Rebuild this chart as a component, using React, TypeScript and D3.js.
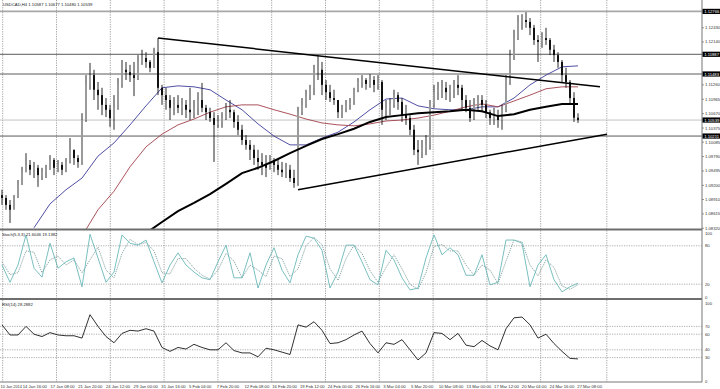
import React from "react";
import * as d3 from "d3";

const W = 720;
const H = 389;
const AXIS_X = 702;

// USDCAD H4 bars (open = previous close)
const firstOpen = 1.09;
const closes = [
  1.0894, 1.088, 1.087, 1.0894, 1.0921, 1.0947, 1.0962, 1.0952, 1.0956, 1.0941,
  1.0947, 1.0952, 1.0972, 1.0956, 1.0962, 1.0952, 1.0968, 1.0993, 1.0976, 1.0968,
  1.1054, 1.1126, 1.1146, 1.1116, 1.1105, 1.1085, 1.1075, 1.1058, 1.1079, 1.1126,
  1.1157, 1.1152, 1.1146, 1.114, 1.1173, 1.1181, 1.1173, 1.1161, 1.1193, 1.112,
  1.1105, 1.1095, 1.1079, 1.1085, 1.1079, 1.1085, 1.1075, 1.107, 1.1079, 1.1095,
  1.1079, 1.107, 1.1058, 1.1044, 1.105, 1.1058, 1.1075, 1.107, 1.105, 1.1034,
  1.1013, 1.1003, 1.0993, 1.0976, 1.0968, 1.0962, 1.0956, 1.0972, 1.0962, 1.0952,
  1.0947, 1.0952, 1.0935, 1.0925, 1.107, 1.1085, 1.1105, 1.112, 1.1152, 1.1157,
  1.1126, 1.1111, 1.1099, 1.1095, 1.107, 1.1075, 1.1085, 1.1091, 1.1116, 1.1132,
  1.1136, 1.1128, 1.1136, 1.1126, 1.1132, 1.1075, 1.1079, 1.1085, 1.1105, 1.1091,
  1.1064, 1.1058, 1.1034, 1.0993, 1.0988, 1.0997, 1.1003, 1.1085, 1.1111, 1.1116,
  1.112, 1.1111, 1.1116, 1.1126, 1.112, 1.1095, 1.1079, 1.1058, 1.1085, 1.1095,
  1.1085, 1.107, 1.1058, 1.1064, 1.1054, 1.1075, 1.1136, 1.1187, 1.1222, 1.1255,
  1.1259, 1.1255, 1.1243, 1.1218, 1.1214, 1.1222, 1.1218, 1.1198, 1.1187, 1.1173,
  1.1146, 1.1132, 1.1099, 1.10587, 1.10539,
];
const highs = [
  1.0911, 1.09, 1.089, 1.09, 1.0931, 1.0958, 1.0986, 1.0972, 1.0968, 1.0962,
  1.0956, 1.0962, 1.0982, 1.0976, 1.0972, 1.0968, 1.0976, 1.1017, 1.0993, 1.0982,
  1.1068, 1.1146, 1.1171, 1.1157, 1.1132, 1.112, 1.1099, 1.1085, 1.1105, 1.114,
  1.1177, 1.1173, 1.1167, 1.1173, 1.1187, 1.1198, 1.1193, 1.1177, 1.1202, 1.1222,
  1.1126, 1.112, 1.1105, 1.1101, 1.1105, 1.1099, 1.1095, 1.112, 1.1095, 1.1111,
  1.113, 1.1085, 1.1079, 1.107, 1.1064, 1.107, 1.1089, 1.1095, 1.1075, 1.1064,
  1.1044, 1.1023, 1.1013, 1.1003, 1.0993, 1.0986, 1.0982, 1.0982, 1.0976, 1.0972,
  1.0968, 1.0966, 1.0962, 1.0952, 1.1081, 1.1099, 1.1116, 1.1126, 1.1167, 1.1187,
  1.1173, 1.1136, 1.1126, 1.1116, 1.1095, 1.1085, 1.1095, 1.1099, 1.112, 1.114,
  1.1146, 1.114, 1.1148, 1.1144, 1.1146, 1.1136, 1.1095, 1.1099, 1.1116, 1.1111,
  1.1099, 1.1085, 1.1064, 1.1044, 1.1013, 1.1013, 1.1023, 1.1095, 1.1126, 1.1132,
  1.1136, 1.1132, 1.1126, 1.1136, 1.1146, 1.1126, 1.1105, 1.1095, 1.1099, 1.1105,
  1.1105, 1.1095, 1.1075, 1.1079, 1.1075, 1.1085, 1.1146, 1.1198, 1.1239, 1.1269,
  1.1271, 1.1275, 1.1263, 1.1249, 1.1228, 1.1234, 1.1243, 1.1222, 1.1208, 1.1193,
  1.1177, 1.1161, 1.1136, 1.1111, 1.10677,
];
const lows = [
  1.088, 1.087, 1.0843, 1.088, 1.0894, 1.0921, 1.0947, 1.0941, 1.0935, 1.0917,
  1.0931, 1.0935, 1.0952, 1.0941, 1.0947, 1.0941, 1.0947, 1.0965, 1.0962, 1.0956,
  1.0962, 1.105, 1.1116, 1.1095, 1.1075, 1.1064, 1.106, 1.104, 1.1034, 1.1075,
  1.112, 1.1136, 1.1132, 1.1103, 1.1136, 1.1167, 1.1161, 1.1152, 1.1161, 1.1105,
  1.1085, 1.1075, 1.1054, 1.1064, 1.1068, 1.1064, 1.1058, 1.1054, 1.1058, 1.1064,
  1.107, 1.1054, 1.105, 1.0968, 1.1038, 1.1038, 1.1054, 1.1058, 1.1038, 1.1023,
  1.1003, 1.0993, 1.0972, 1.0962, 1.0952, 1.0941, 1.0937, 1.0952, 1.0947, 1.0941,
  1.0937, 1.0935, 1.0927, 1.0915, 1.0919, 1.1064, 1.1079, 1.1095, 1.1105, 1.1136,
  1.1105, 1.1095, 1.1091, 1.1085, 1.1058, 1.1058, 1.107, 1.1075, 1.1085, 1.1111,
  1.112, 1.1116, 1.112, 1.1111, 1.1116, 1.1044, 1.1054, 1.1064, 1.1079, 1.1075,
  1.105, 1.1044, 1.1023, 1.0982, 1.0962, 1.0976, 1.0982, 1.0993, 1.1079, 1.1095,
  1.1099, 1.1095, 1.1091, 1.1099, 1.1105, 1.1075, 1.107, 1.105, 1.1054, 1.1075,
  1.107, 1.1058, 1.1044, 1.1044, 1.1038, 1.1034, 1.107, 1.1126, 1.1177, 1.1218,
  1.1239, 1.1243, 1.1228, 1.1208, 1.1173, 1.1202, 1.1208, 1.1187, 1.1173, 1.1161,
  1.1132, 1.112, 1.1085, 1.105, 1.1048,
];

// moving averages, one value every 4 bars, starting at bar start*4
const maBlueStart = 2;
const maBlue = [
  1.0833, 1.0882, 1.0911, 1.0935, 1.098, 1.1007, 1.1044, 1.1083, 1.112, 1.1124,
  1.1122, 1.1116, 1.1095, 1.1075, 1.1046, 1.1021, 1.1003, 1.1003, 1.1017, 1.1029,
  1.105, 1.1075, 1.1097, 1.1099, 1.1083, 1.1077, 1.1075, 1.1075, 1.1081, 1.1081,
  1.1099, 1.1126, 1.1146, 1.1163, 1.1165,
];
const maRedStart = 5;
const maRed = [
  1.0816, 1.087, 1.0908, 1.0958, 1.0999, 1.1025, 1.1044, 1.1056, 1.107, 1.1081,
  1.1085, 1.1085, 1.1075, 1.1066, 1.1056, 1.1048, 1.1044, 1.1042, 1.1046, 1.1052,
  1.1054, 1.1058, 1.1064, 1.1072, 1.1081, 1.1087, 1.1081, 1.1093, 1.1105, 1.1118,
  1.1122, 1.1122,
];
const maBlackStart = 9;
const maBlack = [
  1.0822, 1.0845, 1.0867, 1.0884, 1.0902, 1.0923, 1.0945, 1.0956, 1.097, 1.0986,
  1.1001, 1.1015, 1.1025, 1.1036, 1.105, 1.106, 1.1064, 1.1068, 1.107, 1.1072,
  1.1075, 1.1072, 1.1062, 1.1066, 1.1075, 1.1081, 1.1087, 1.1087,
];

// trend lines [bar, price]
const upperTrend = [[39, 1.1222], [149.5, 1.1122]];
const lowerTrend = [[74, 1.0911], [151.25, 1.1025]];

const levels = [1.12766, 1.11887, 1.11483, 1.10211];
const bid = 1.10539;

const priceTicks = [
  1.0832, 1.08615, 1.0891, 1.092, 1.09495, 1.0979, 1.10085, 1.10375,
  1.1067, 1.10965, 1.1126, 1.1155, 1.11845, 1.1214, 1.1243, 1.12725,
];

// oscillators, one value every 2 bars
const stochMain = [
  50, 23, 50, 97, 45, 31, 84, 45, 55, 61, 16, 98, 61, 23, 39, 97, 84, 81, 89, 55,
  22, 50, 69, 50, 39, 30, 27, 55, 81, 30, 30, 69, 14, 50, 77, 42, 22, 66, 95, 92,
  73, 14, 39, 81, 81, 55, 27, 19, 73, 58, 30, 11, 14, 61, 97, 66, 77, 66, 34, 34,
  66, 19, 23, 89, 89, 84, 16, 50, 66, 27, 8, 16, 21.6046,
];
const stochSignal = [
  55, 35, 38, 72, 70, 38, 58, 64, 50, 58, 38, 58, 78, 42, 30, 68, 90, 82, 85, 72,
  38, 36, 60, 60, 45, 34, 28, 42, 68, 56, 30, 50, 42, 32, 64, 60, 32, 44, 80, 93,
  82, 44, 26, 60, 81, 68, 41, 23, 46, 66, 44, 20, 12, 38, 79, 82, 72, 72, 50, 34,
  50, 42, 21, 56, 89, 86, 50, 33, 58, 46, 17, 12, 19.1382,
];
const rsiValues = [
  72, 59, 59, 70, 60, 57, 62, 59, 58, 58, 55, 85, 70, 57, 49, 61, 65, 64, 67, 64,
  43, 38, 43, 41, 47, 43, 40, 40, 49, 39, 36, 36, 31, 42, 40, 37, 34, 72, 69, 76,
  65, 48, 49, 53, 59, 64, 48, 36, 49, 47, 53, 40, 27, 36, 62, 61, 53, 61, 46, 44,
  52, 45, 40, 67, 81, 82, 72, 55, 60, 48, 38, 29, 28.2882,
];
const stochLevels = [80, 20];
const stochLabels = [100, 80, 20, 0];
const rsiLevels = [70, 60, 40, 30];
const rsiLabels = [100, 70, 60, 40, 30, 0];

const timeLabels = [
  "10 Jan 2014", "14 Jan 16:00", "17 Jan 08:00", "21 Jan 20:00", "24 Jan 12:00",
  "29 Jan 00:00", "31 Jan 16:00", "5 Feb 04:00", "7 Feb 20:00", "12 Feb 08:00",
  "16 Feb 20:00", "19 Feb 12:00", "24 Feb 00:00", "26 Feb 16:00", "3 Mar 04:00",
  "5 Mar 20:00", "10 Mar 08:00", "13 Mar 00:00", "17 Mar 12:00", "20 Mar 04:00",
  "24 Mar 16:00", "27 Mar 08:00",
];

const FONT = "Liberation Sans, Arial, sans-serif";
const FS = 4.2;

export default function App() {
  const x = d3.scaleLinear().domain([0, closes.length - 1]).range([2, 578]);
  const yP = d3.scaleLinear().domain([1.083055, 1.13]).range([229, 0]);
  const yS = d3.scaleLinear().domain([0, 100]).range([297, 233]);
  const yR = d3.scaleLinear().domain([0, 100]).range([381, 303]);
  const tx = d3.scaleLinear().domain([1, timeLabels.length - 1]).range([22.7, 577.3]);
  const gx = d3.scaleLinear().domain([0, 10]).range([2.7, 540.7]);
  const gridX = [...d3.range(0, 11).map((i) => gx(i)), x(151.2)];

  const maLine = (vals: number[], start: number) =>
    d3.line<number>().x((_, i) => x((start + i) * 4)).y((d) => yP(d))(vals) ?? "";
  const oscLine = (vals: number[], ys: d3.ScaleLinear<number, number>) =>
    d3.line<number>().x((_, i) => x(i * 2)).y((d) => ys(d))(vals) ?? "";
  const trend = (pts: number[][]) =>
    d3.line<number[]>().x((d) => x(d[0])).y((d) => yP(d[1]))(pts) ?? "";

  // price ticks hidden behind the black level boxes are dropped
  const boxed = [...levels, bid].map((l) => yP(l));
  const visibleTicks = priceTicks.filter((p) => boxed.every((b) => Math.abs(yP(p) - b) > 5.2));

  const label = (y: number, text: string, key: string) => (
    <g key={key}>
      <rect x={AXIS_X + 0.5} y={y - 2.6} width={17.5} height={5.2} fill="#000" />
      <text x={AXIS_X + 2.2} y={y + 1.5} fill="#fff" fontSize={FS}>{text}</text>
    </g>
  );

  return (
    <svg width={W} height={H} style={{ position: "absolute", left: 0, top: 0, background: "#fff" }}
         fontFamily={FONT}>
      <defs>
        <clipPath id="main"><rect x={0} y={0} width={AXIS_X} height={229} /></clipPath>
        <clipPath id="stoch"><rect x={0} y={231} width={AXIS_X} height={67} /></clipPath>
        <clipPath id="rsi"><rect x={0} y={301} width={AXIS_X} height={81} /></clipPath>
      </defs>
      <rect width={W} height={H} fill="#fff" />

      {/* vertical grid */}
      {gridX.map((gxv, i) => (
        <line key={`g${i}`} x1={gxv} x2={gxv} y1={0} y2={382} stroke="#8a8a8a"
              strokeWidth={0.8} strokeDasharray="1.2,1.2" />
      ))}

      {/* main panel */}
      <g clipPath="url(#main)">
        {levels.map((l, i) => (
          <line key={`lv${i}`} x1={0} x2={AXIS_X} y1={yP(l)} y2={yP(l)}
                stroke={i === 0 ? "#a8a8a8" : "#5a5a5a"} strokeWidth={i === 0 ? 1.6 : 1} />
        ))}
        <line x1={0} x2={AXIS_X} y1={yP(bid)} y2={yP(bid)} stroke="#c4c4c4" strokeWidth={1} />
        <path d={maLine(maBlue, maBlueStart)} fill="none" stroke="#3b3b9a" strokeWidth={0.9} />
        <path d={maLine(maRed, maRedStart)} fill="none" stroke="#a0404a" strokeWidth={0.9} />
        {closes.map((c, i) => {
          const o = i === 0 ? firstOpen : closes[i - 1];
          const top = yP(Math.max(o, c));
          const bot = yP(Math.min(o, c));
          return (
            <g key={`b${i}`}>
              <line x1={x(i)} x2={x(i)} y1={yP(highs[i])} y2={yP(lows[i])} stroke="#111" strokeWidth={0.9} />
              <rect x={x(i) - 1} y={top} width={2} height={Math.max(bot - top, 0.8)}
                    fill={c >= o ? "#9a9a9a" : "#111"} />
            </g>
          );
        })}
        <path d={maLine(maBlack, maBlackStart)} fill="none" stroke="#000" strokeWidth={2} />
        <path d={trend(upperTrend)} fill="none" stroke="#000" strokeWidth={1.5} />
        <path d={trend(lowerTrend)} fill="none" stroke="#000" strokeWidth={1.5} />
      </g>
      <text x={3} y={5.5} fontSize={FS} fill="#222">USDCAD,H4  1.10587 1.10677 1.10480 1.10539</text>

      {/* stochastic */}
      <g clipPath="url(#stoch)">
        {stochLevels.map((v) => (
          <line key={`sl${v}`} x1={0} x2={AXIS_X} y1={yS(v)} y2={yS(v)} stroke="#9a9a9a"
                strokeWidth={0.8} strokeDasharray="1.2,1.2" />
        ))}
        <path d={oscLine(stochSignal, yS)} fill="none" stroke="#7a9a9a" strokeWidth={0.9} strokeDasharray="1.2,1" />
        <path d={oscLine(stochMain, yS)} fill="none" stroke="#6cb8b8" strokeWidth={0.9} />
      </g>
      <text x={2} y={236} fontSize={FS} fill="#222">Stoch(5,3,3) 21.6046 19.1382</text>

      {/* RSI */}
      <g clipPath="url(#rsi)">
        {rsiLevels.map((v) => (
          <line key={`rl${v}`} x1={0} x2={AXIS_X} y1={yR(v)} y2={yR(v)} stroke="#9a9a9a"
                strokeWidth={0.8} strokeDasharray="1.2,1.2" />
        ))}
        <path d={oscLine(rsiValues, yR)} fill="none" stroke="#1a1a1a" strokeWidth={0.9} />
      </g>
      <text x={2} y={306} fontSize={FS} fill="#222">RSI(14) 28.2882</text>

      {/* separators and axis */}
      <line x1={0} x2={AXIS_X} y1={229.5} y2={229.5} stroke="#6e6e6e" strokeWidth={2} />
      <line x1={0} x2={AXIS_X} y1={299} y2={299} stroke="#6e6e6e" strokeWidth={2} />
      <line x1={0} x2={AXIS_X} y1={382} y2={382} stroke="#777" strokeWidth={1} />
      <line x1={AXIS_X} x2={AXIS_X} y1={0} y2={382} stroke="#777" strokeWidth={1} />

      {/* price axis */}
      {visibleTicks.map((p) => (
        <g key={`pt${p}`}>
          <line x1={AXIS_X} x2={AXIS_X + 2} y1={yP(p)} y2={yP(p)} stroke="#555" strokeWidth={0.6} />
          <text x={AXIS_X + 3} y={yP(p) + 1.5} fontSize={FS} fill="#333">{p.toFixed(5)}</text>
        </g>
      ))}
      {levels.map((l, i) => label(yP(l), l.toFixed(5), `ll${i}`))}
      {label(yP(bid), bid.toFixed(5), "bid")}

      {stochLabels.map((v) => (
        <text key={`sx${v}`} x={AXIS_X + 3} y={yS(v) + 1.5} fontSize={FS} fill="#333">{v}</text>
      ))}
      {rsiLabels.map((v) => (
        <text key={`rx${v}`} x={AXIS_X + 3} y={yR(v) + 1.5} fontSize={FS} fill="#333">{v}</text>
      ))}

      {/* time axis */}
      {timeLabels.map((t, i) => (
        <text key={`t${i}`} x={i === 0 ? 0.5 : tx(i)} y={387.5} fontSize={i === 0 ? 3.9 : FS} fill="#333">{t}</text>
      ))}
    </svg>
  );
}
